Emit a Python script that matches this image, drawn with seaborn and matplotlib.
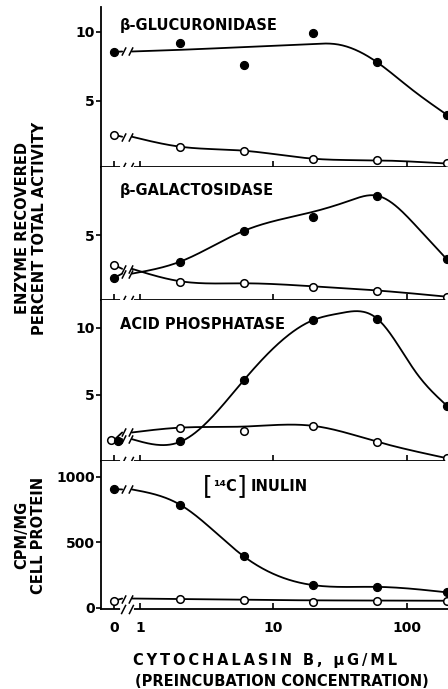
import numpy as np
import pandas as pd
import matplotlib
matplotlib.use("Agg")
import matplotlib.pyplot as plt
import matplotlib.transforms as mtransforms
from matplotlib.path import Path
import seaborn as sns

# ---------------- data ----------------
conc = [0, 2, 6, 20, 60, 200]            # cytochalasin B, ug/ml (0 = control)
xtick_values = [0, 1, 10, 100]
xtick_labels = ["0", "1", "10", "100"]

gluc_filled = [8.55, 9.2, 7.6, 9.9, 7.8, 4.0]
gluc_open = [2.55, 1.64, 1.40, 0.78, 0.72, 0.48]
galac_filled = [1.9, 3.07, 5.3, 6.3, 7.85, 3.24]
galac_open = [2.83, 1.57, 1.50, 1.25, 0.96, 0.53]
acid_filled = [1.57, 1.57, 6.1, 10.6, 10.7, 4.2]
acid_open = [1.64, 2.56, 2.31, 2.69, 1.51, 0.28]
inulin_filled = [907, 788, 394, 174, 161, 119]
inulin_open = [55, 68, 61, 43, 55, 53]

# hand-drawn smooth curves of the original, read at a few concentrations
gluc_filled_cx = [0.87, 2, 6, 20, 30, 60, 107, 200]
gluc_filled_cy = [8.58, 8.7, 8.9, 9.13, 9.1, 7.8, 5.9, 4.0]
gluc_open_cx = [0.87, 2, 6, 20, 60, 200]
gluc_open_cy = [2.41, 1.69, 1.40, 0.82, 0.70, 0.47]
galac_filled_cx = [0.87, 2, 6, 20, 37.6, 60, 119, 200]
galac_filled_cy = [2.2, 3.07, 5.3, 6.69, 7.5, 7.85, 5.6, 3.24]
galac_open_cx = [0.87, 2, 6, 20, 60, 200]
galac_open_cy = [2.55, 1.65, 1.50, 1.28, 0.98, 0.53]
acid_filled_cx = [0.87, 2, 6, 20, 31.6, 60, 119, 200]
acid_filled_cy = [1.7, 1.5, 6.1, 10.6, 11.1, 10.7, 6.6, 4.2]
acid_open_cx = [0.87, 2, 6, 20, 60, 200]
acid_open_cy = [2.2, 2.56, 2.64, 2.69, 1.51, 0.28]
inulin_filled_cx = [0.87, 2, 6, 20, 60, 200]
inulin_filled_cy = [905, 788, 394, 174, 161, 119]
inulin_open_cx = [0.87, 2, 6, 20, 60, 200]
inulin_open_cy = [72, 68, 63, 58, 57, 55]

panel_titles = ["\u03b2-GLUCURONIDASE", "\u03b2-GALACTOSIDASE", "ACID PHOSPHATASE", None]
ylabel_top = "ENZYME RECOVERED\nPERCENT TOTAL ACTIVITY"
ylabel_bottom = "CPM/MG\nCELL PROTEIN"
xlabel_1 = "CYTOCHALASIN B, \u03bcG/ML"
xlabel_2 = "(PREINCUBATION CONCENTRATION)"

# ---------------- style / layout ----------------
sns.set_style("ticks")
plt.rcParams["font.family"] = ["DejaVu Sans"]
plt.rcParams["font.weight"] = "bold"
for key in ["text.color", "axes.labelcolor", "xtick.color", "ytick.color", "axes.edgecolor"]:
    plt.rcParams[key] = "black"
FS = 10.5
TFS = 10

X0 = 0.64      # where the "0" (control) sits on the broken log axis
XBL, XBM, XBR = 0.735, 0.80, 0.87   # break gap on the axis / curves

SLASH = Path([(-0.8, -0.6), (-0.2, 0.6), (0.2, -0.6), (0.8, 0.6)],
             [Path.MOVETO, Path.LINETO, Path.MOVETO, Path.LINETO])

W, H = 448, 689
fig = plt.figure(figsize=(W / 100, H / 100), dpi=100)

boxes = [(7, 167), (167, 300), (300, 461), (461, 609)]
ylims = [(0.22, 11.8), (0.29, 9.93), (0.07, 12.09), (-8, 1122)]
yticks = [[5, 10], [5], [5, 10], [0, 500, 1000]]
left_px, right_px = 101, 448


def smooth(xk, yk, n=300):
    """natural cubic spline through the read-off curve points (log-x)."""
    u = np.log10(np.asarray(xk, float))
    y = np.asarray(yk, float)
    N = len(u)
    h = np.diff(u)
    A = np.zeros((N, N))
    b = np.zeros(N)
    A[0, 0] = A[-1, -1] = 1
    for i in range(1, N - 1):
        A[i, i - 1] = h[i - 1]
        A[i, i] = 2 * (h[i - 1] + h[i])
        A[i, i + 1] = h[i]
        b[i] = 6 * ((y[i + 1] - y[i]) / h[i] - (y[i] - y[i - 1]) / h[i - 1])
    M = np.linalg.solve(A, b)
    t = np.linspace(u[0], u[-1], n)
    idx = np.clip(np.searchsorted(u, t) - 1, 0, N - 2)
    ui, ui1, hi = u[idx], u[idx + 1], h[idx]
    s = (M[idx] * (ui1 - t) ** 3 / (6 * hi) + M[idx + 1] * (t - ui) ** 3 / (6 * hi)
         + (y[idx] / hi - M[idx] * hi / 6) * (ui1 - t)
         + (y[idx + 1] / hi - M[idx + 1] * hi / 6) * (t - ui))
    return 10 ** t, s


series = [
    [(gluc_open, gluc_open_cx, gluc_open_cy, False), (gluc_filled, gluc_filled_cx, gluc_filled_cy, True)],
    [(galac_open, galac_open_cx, galac_open_cy, False), (galac_filled, galac_filled_cx, galac_filled_cy, True)],
    [(acid_open, acid_open_cx, acid_open_cy, False), (acid_filled, acid_filled_cx, acid_filled_cy, True)],
    [(inulin_open, inulin_open_cx, inulin_open_cy, False), (inulin_filled, inulin_filled_cx, inulin_filled_cy, True)],
]

xpos = [X0 if c == 0 else c for c in conc]
axes = []
for k, (top, bot) in enumerate(boxes):
    ax = fig.add_axes([left_px / W, 1 - bot / H, (right_px - left_px) / W, (bot - top) / H])
    axes.append(ax)
    ax.set_xscale("log")
    ax.set_xlim(0.51, 204)
    ax.set_ylim(*ylims[k])
    for vals, cx, cy, filled in series[k]:
        stub = pd.DataFrame({"x": [X0, XBL], "y": [vals[0], cy[0]]})
        sns.lineplot(data=stub, x="x", y="y", color="black", lw=1.3, ax=ax,
                     estimator=None, sort=False)
        sx, sy = smooth(cx, cy)
        sns.lineplot(x=sx, y=sy, color="black", lw=1.3, ax=ax, estimator=None, sort=False)
        ax.plot([XBM], [cy[0]], marker=SLASH, ms=8, mew=1.1, color="black", lw=0)
        pts = pd.DataFrame({"x": xpos, "y": vals})
        if filled:
            sns.scatterplot(data=pts, x="x", y="y", ax=ax, s=34, color="black",
                            edgecolor="black", linewidth=0.8, zorder=5, clip_on=False)
        else:
            sns.scatterplot(data=pts, x="x", y="y", ax=ax, s=30, color="white",
                            edgecolor="black", linewidth=1.1, zorder=5, clip_on=False)
        if k == 2:
            coll = ax.collections[-1]
            offs = coll.get_offsets()
            dx = 1.07 if filled else 0.94
            offs[0, 0] = offs[0, 0] * dx
            coll.set_offsets(offs)

    for s in ["top", "right"]:
        ax.spines[s].set_visible(False)
    ax.spines["left"].set_linewidth(1.3)
    ax.spines["bottom"].set_linewidth(1.3)
    ax.set_yticks(yticks[k])
    ax.set_yticklabels([str(v) for v in yticks[k]], fontsize=TFS, fontweight="bold")
    ax.tick_params(axis="y", direction="out", length=3.5, width=1.2, pad=1, colors="black")
    ax.set_xticks([X0 if v == 0 else v for v in xtick_values])
    ax.xaxis.set_minor_locator(matplotlib.ticker.NullLocator())
    ax.tick_params(axis="x", direction="in", length=4, width=1.2, pad=9, colors="black")
    if k == 3:
        ax.set_xticklabels(xtick_labels, fontsize=TFS, fontweight="bold")
    else:
        ax.set_xticklabels([])
    ax.set_xlabel("")
    ax.set_ylabel("")
    bt = mtransforms.blended_transform_factory(ax.transData, ax.transAxes)
    ax.plot([XBL * 0.99, XBR], [0, 0], color="white", lw=3, transform=bt,
            clip_on=False, zorder=6)
    ax.plot([XBM], [0], marker=SLASH, ms=9, mew=1.1, color="black", transform=bt,
            clip_on=False, zorder=7, lw=0)
    if panel_titles[k]:
        ty = [0.887, 0.827, 0.845][k]
        ax.text(0.055, ty, panel_titles[k], transform=ax.transAxes, fontsize=FS,
                fontweight="bold", va="center", ha="left", color="black")

ax4 = axes[3]
ax4.text(0.308, 0.83, "[", transform=ax4.transAxes, fontsize=18, fontweight="normal",
         va="center", ha="center", color="black")
ax4.text(0.322, 0.83, "\u00b9\u2074C", transform=ax4.transAxes, fontsize=FS,
         fontweight="bold", va="center", ha="left", color="black")
ax4.text(0.405, 0.83, "]", transform=ax4.transAxes, fontsize=18, fontweight="normal",
         va="center", ha="center", color="black")
ax4.text(0.43, 0.83, "INULIN", transform=ax4.transAxes, fontsize=FS,
         fontweight="bold", va="center", ha="left", color="black")

fig.text(31 / W, 1 - 228 / H, ylabel_top, rotation=90, ha="center", va="center",
         fontsize=FS, fontweight="bold", linespacing=1.1, color="black")
fig.text(30 / W, 1 - 535 / H, ylabel_bottom, rotation=90, ha="center", va="center",
         fontsize=FS, fontweight="bold", linespacing=1.1, color="black")
fig.text(265 / W, 1 - 660 / H, "\u2009".join(xlabel_1), ha="center", va="center",
         fontsize=FS, fontweight="bold", color="black")
fig.text(282 / W, 1 - 682 / H, xlabel_2, ha="center", va="center",
         fontsize=FS, fontweight="bold", color="black")

fig.savefig("out.png", dpi=100)
